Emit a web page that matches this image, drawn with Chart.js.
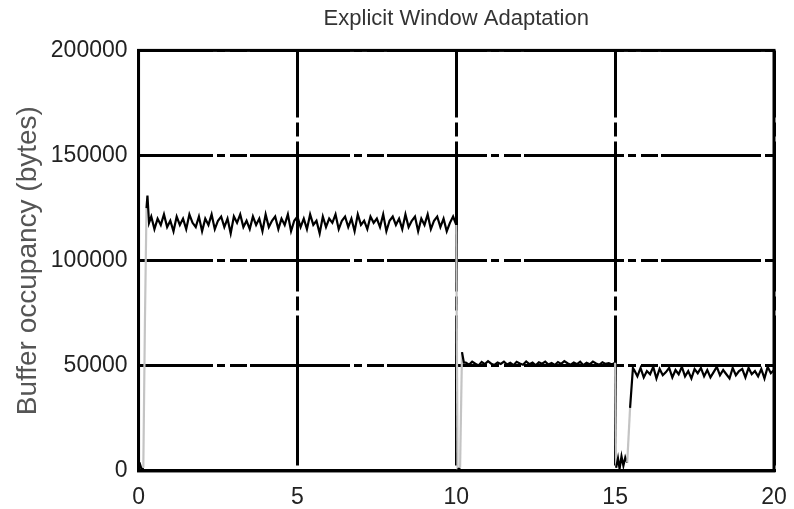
<!DOCTYPE html>
<html>
<head>
<meta charset="utf-8">
<title>Explicit Window Adaptation</title>
<script src="https://cdn.jsdelivr.net/npm/chart.js@4/dist/chart.umd.min.js"></script>
<style>
  body { margin: 0; background: #fff; }
</style>
</head>
<body>
<canvas id="bufferChart" width="794" height="509"></canvas>
<script>
// start-up: buffer fills and overshoots
const startTimes = [0, 0.05, 0.1, 0.15, 0.2, 0.25, 0.28, 0.33];
const startValues = [1500, 3000, 500, 1500, 70000, 125000, 131000, 118000];

// first steady phase, ~118 KB
const phase1Times = [
    0.4, 0.5, 0.6, 0.7, 0.8, 0.9, 1.0, 1.1, 1.2, 1.3,
    1.4, 1.5, 1.6, 1.7, 1.8, 1.9, 2.0, 2.1, 2.2, 2.3,
    2.4, 2.5, 2.6, 2.7, 2.8, 2.9, 3.0, 3.1, 3.2, 3.3,
    3.4, 3.5, 3.6, 3.7, 3.8, 3.9, 4.0, 4.1, 4.2, 4.3,
    4.4, 4.5, 4.6, 4.7, 4.8, 4.9, 5.0, 5.1, 5.2, 5.3,
    5.4, 5.5, 5.6, 5.7, 5.8, 5.9, 6.0, 6.1, 6.2, 6.3,
    6.4, 6.5, 6.6, 6.7, 6.8, 6.9, 7.0, 7.1, 7.2, 7.3,
    7.4, 7.5, 7.6, 7.7, 7.8, 7.9, 8.0, 8.1, 8.2, 8.3,
    8.4, 8.5, 8.6, 8.7, 8.8, 8.9, 9.0, 9.1, 9.2, 9.3,
    9.4, 9.5, 9.6, 9.7, 9.8, 9.9, 10.0
];
const phase1Values = [
    121000, 115000, 120000, 117000, 122000, 116000, 119000, 114000, 121000, 117000,
    120000, 115000, 122000, 118000, 116000, 121000, 114000, 120000, 117000, 122000,
    115000, 119000, 121000, 116000, 120000, 113000, 121000, 118000, 122000, 116000,
    119000, 115000, 121000, 117000, 120000, 114000, 122000, 116000, 119000, 121000,
    115000, 120000, 117000, 122000, 114000, 119000, 121000, 116000, 120000, 115000,
    122000, 117000, 119000, 113000, 121000, 116000, 120000, 118000, 122000, 115000,
    119000, 121000, 116000, 120000, 114000, 122000, 117000, 119000, 115000, 121000,
    118000, 120000, 116000, 122000, 114000, 119000, 121000, 117000, 120000, 115000,
    122000, 116000, 119000, 121000, 114000, 120000, 117000, 122000, 115000, 119000,
    121000, 116000, 120000, 114000, 118000, 121000, 117000
];

// drop at t=10 and refill
const drop1Times = [10.04, 10.12, 10.18, 10.24];
const drop1Values = [500, 1500, 56500, 51500];

// second steady phase, ~51 KB
const phase2Times = [
    10.3, 10.4, 10.5, 10.6, 10.7, 10.8, 10.9, 11.0, 11.1, 11.2,
    11.3, 11.4, 11.5, 11.6, 11.7, 11.8, 11.9, 12.0, 12.1, 12.2,
    12.3, 12.4, 12.5, 12.6, 12.7, 12.8, 12.9, 13.0, 13.1, 13.2,
    13.3, 13.4, 13.5, 13.6, 13.7, 13.8, 13.9, 14.0, 14.1, 14.2,
    14.3, 14.4, 14.5, 14.6, 14.7, 14.8, 14.9, 15.0
];
const phase2Values = [
    51500, 50500, 52000, 51000, 50200, 51800, 50800, 52200, 51000, 50400,
    51600, 50900, 52000, 50600, 51400, 50300, 51900, 51100, 50500, 52100,
    50800, 51500, 50200, 51700, 51000, 52000, 50600, 51300, 50400, 51800,
    50900, 52200, 51200, 50500, 51600, 50800, 51900, 50300, 51400, 50700,
    52000, 51100, 50500, 51700, 50900, 51300, 50600, 51500
];

// drop at t=15 and slow refill
const drop2Times = [15.03, 15.09, 15.14, 15.2, 15.26, 15.32, 15.38, 15.47, 15.56];
const drop2Values = [1500, 6000, 1000, 7000, 2500, 6500, 4000, 30000, 49000];

// third steady phase, ~47 KB
const phase3Times = [
    15.6, 15.7, 15.8, 15.9, 16.0, 16.1, 16.2, 16.3, 16.4, 16.5,
    16.6, 16.7, 16.8, 16.9, 17.0, 17.1, 17.2, 17.3, 17.4, 17.5,
    17.6, 17.7, 17.8, 17.9, 18.0, 18.1, 18.2, 18.3, 18.4, 18.5,
    18.6, 18.7, 18.8, 18.9, 19.0, 19.1, 19.2, 19.3, 19.4, 19.5,
    19.6, 19.7, 19.8, 19.9, 20.0
];
const phase3Values = [
    48000, 45000, 49000, 44500, 47500, 46000, 49500, 44000, 48500, 45500,
    47000, 49000, 44500, 48000, 46000, 49500, 45000, 47500, 44000, 48500,
    46500, 49000, 45000, 48000, 44500, 47000, 49500, 45500, 48000, 46000,
    44000, 49000, 45500, 47500, 48500, 44500, 49000, 46000, 47500, 45000,
    48500, 44000, 49500, 46500, 48000
];

const xTicks = [0, 5, 10, 15, 20];
const yTicks = [0, 50000, 100000, 150000, 200000];

const allTimes = [].concat(startTimes, phase1Times, drop1Times, phase2Times, drop2Times, phase3Times);
const allValues = [].concat(startValues, phase1Values, drop1Values, phase2Values, drop2Values, phase3Values);
const points = allTimes.map((t, i) => ({ x: t, y: allValues[i] }));

const FONT = "'Liberation Sans', Arial, sans-serif";

// solid frame round the plot (grid lines are dashed)
const framePlugin = {
    id: "frame",
    afterDatasetsDraw(chart) {
        const a = chart.chartArea;
        const ctx = chart.ctx;
        ctx.save();
        ctx.strokeStyle = "#000";
        ctx.lineWidth = 3;
        ctx.setLineDash([]);
        ctx.strokeRect(a.left, a.top, a.right - a.left, a.bottom - a.top);
        ctx.restore();
    }
};

const ctx = document.getElementById("bufferChart").getContext("2d");
new Chart(ctx, {
    type: "line",
    data: {
        datasets: [{
            data: points,
            borderColor: "#000",
            borderWidth: 2.2,
            pointRadius: 0,
            tension: 0,
            segment: {
                borderColor: c => Math.abs(c.p1.parsed.y - c.p0.parsed.y) > 20000 ? "#c4c4c4" : "#000"
            }
        }]
    },
    options: {
        responsive: false,
        animation: false,
        layout: { padding: { left: 16, right: 20, top: 0, bottom: -16 } },
        plugins: {
            legend: { display: false },
            tooltip: { enabled: false },
            title: {
                display: true,
                text: "Explicit Window Adaptation",
                fullSize: false,
                color: "#333",
                font: { family: FONT, size: 22, weight: "normal" },
                padding: { top: 6, bottom: 18 }
            }
        },
        scales: {
            x: {
                type: "linear",
                min: 0,
                max: 20,
                afterBuildTicks: s => { s.ticks = xTicks.map(v => ({ value: v })); },
                ticks: {
                    padding: 0,
                    color: "#222",
                    font: { family: FONT, size: 23, lineHeight: 2.35 },
                    maxRotation: 0
                },
                grid: { color: "#000", lineWidth: 3, drawTicks: false },
                border: { display: true, color: "#000", width: 3, dash: [150, 5, 14, 5], dashOffset: 83 }
            },
            y: {
                min: 0,
                max: 200000,
                afterBuildTicks: s => { s.ticks = yTicks.map(v => ({ value: v })); },
                ticks: {
                    padding: 11,
                    color: "#222",
                    font: { family: FONT, size: 23 },
                    callback: v => String(v)
                },
                grid: { color: "#000", lineWidth: 3, drawTicks: false },
                border: { display: true, color: "#000", width: 3, dash: [100, 4, 8, 5, 17, 3], dashOffset: 27 },
                title: {
                    display: true,
                    text: "Buffer occupancy (bytes)",
                    color: "#555",
                    padding: { top: 0, bottom: 0 },
                    font: { family: FONT, size: 28, lineHeight: 0.85 }
                }
            }
        }
    },
    plugins: [framePlugin]
});
</script>
</body>
</html>
